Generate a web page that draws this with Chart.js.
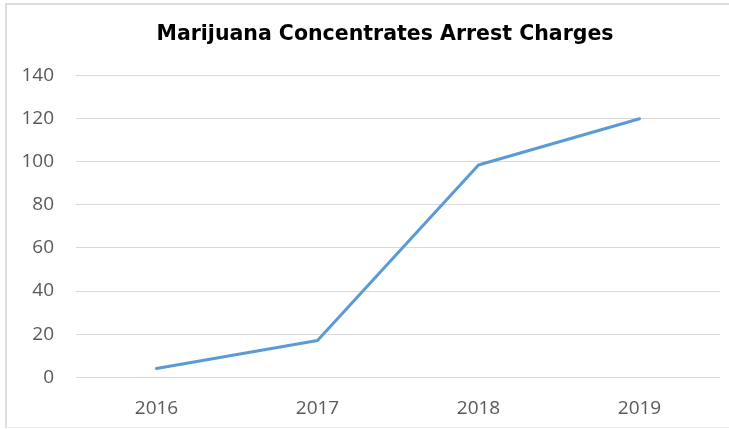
<!DOCTYPE html>
<html>
<head>
<meta charset="utf-8">
<script src="https://cdn.jsdelivr.net/npm/chart.js@4/dist/chart.umd.min.js"></script>
<style>
  html, body { margin: 0; padding: 0; background: #fff; }
  #wrap { position: relative; width: 729px; height: 429px; }
  #frame { position: absolute; left: 5px; top: 3px; right: 0; bottom: 1px; border-left: 2px solid #dcdcdc; border-top: 2px solid #dcdcdc; border-bottom: 1px solid #eeeeee; }
  canvas { position: absolute; left: 0; top: 0; }
</style>
</head>
<body>
<div id="wrap">
  <div id="frame"></div>
  <canvas id="c" width="729" height="429"></canvas>
</div>
<script>
const categories = ["2016", "2017", "2018", "2019"];
const arrestCharges = [4, 17, 98.5, 120];
const yTicks = [0, 20, 40, 60, 80, 100, 120, 140];
const chartTitle = "Marijuana Concentrates Arrest Charges";

// shift the title's centring box to match the reference (title centred slightly right)
const titleShift = {
  id: "titleShift",
  afterLayout(chart) {
    if (chart.titleBlock) { chart.titleBlock.left += 31; }
  }
};

new Chart(document.getElementById("c"), {
  type: "line",
  data: {
    labels: categories,
    datasets: [{
      label: "Arrest Charges",
      data: arrestCharges,
      borderColor: "#5B9BD5",
      backgroundColor: "#5B9BD5",
      borderWidth: 3,
      pointRadius: 0,
      tension: 0,
      borderCapStyle: "round",
      borderJoinStyle: "round",
      fill: false
    }]
  },
  plugins: [titleShift],
  options: {
    responsive: false,
    animation: false,
    devicePixelRatio: 1,
    layout: { padding: { left: 19, right: 9, top: 14, bottom: -11 } },
    plugins: {
      legend: { display: false },
      tooltip: { enabled: false },
      title: {
        display: true,
        text: chartTitle,
        color: "#000000",
        font: { family: "DejaVu Sans", size: 20.5, weight: "bold" },
        padding: { top: 8, bottom: 29 }
      }
    },
    scales: {
      x: {
        offset: true,
        grid: { display: false, drawTicks: false },
        border: { display: false },
        ticks: {
          color: "#595959",
          font: { family: "Open Sans", size: 19 },
          padding: 20,
          maxRotation: 0
        }
      },
      y: {
        min: yTicks[0],
        max: yTicks[yTicks.length - 1],
        afterBuildTicks: (axis) => { axis.ticks = yTicks.map(v => ({ value: v })); },
        afterFit: (axis) => { axis.width = 57; },
        grid: { color: "#d9d9d9", lineWidth: 1, drawTicks: false },
        border: { display: false },
        ticks: {
          color: "#595959",
          font: { family: "Open Sans", size: 19 },
          padding: 22
        }
      }
    }
  }
});
</script>
</body>
</html>
